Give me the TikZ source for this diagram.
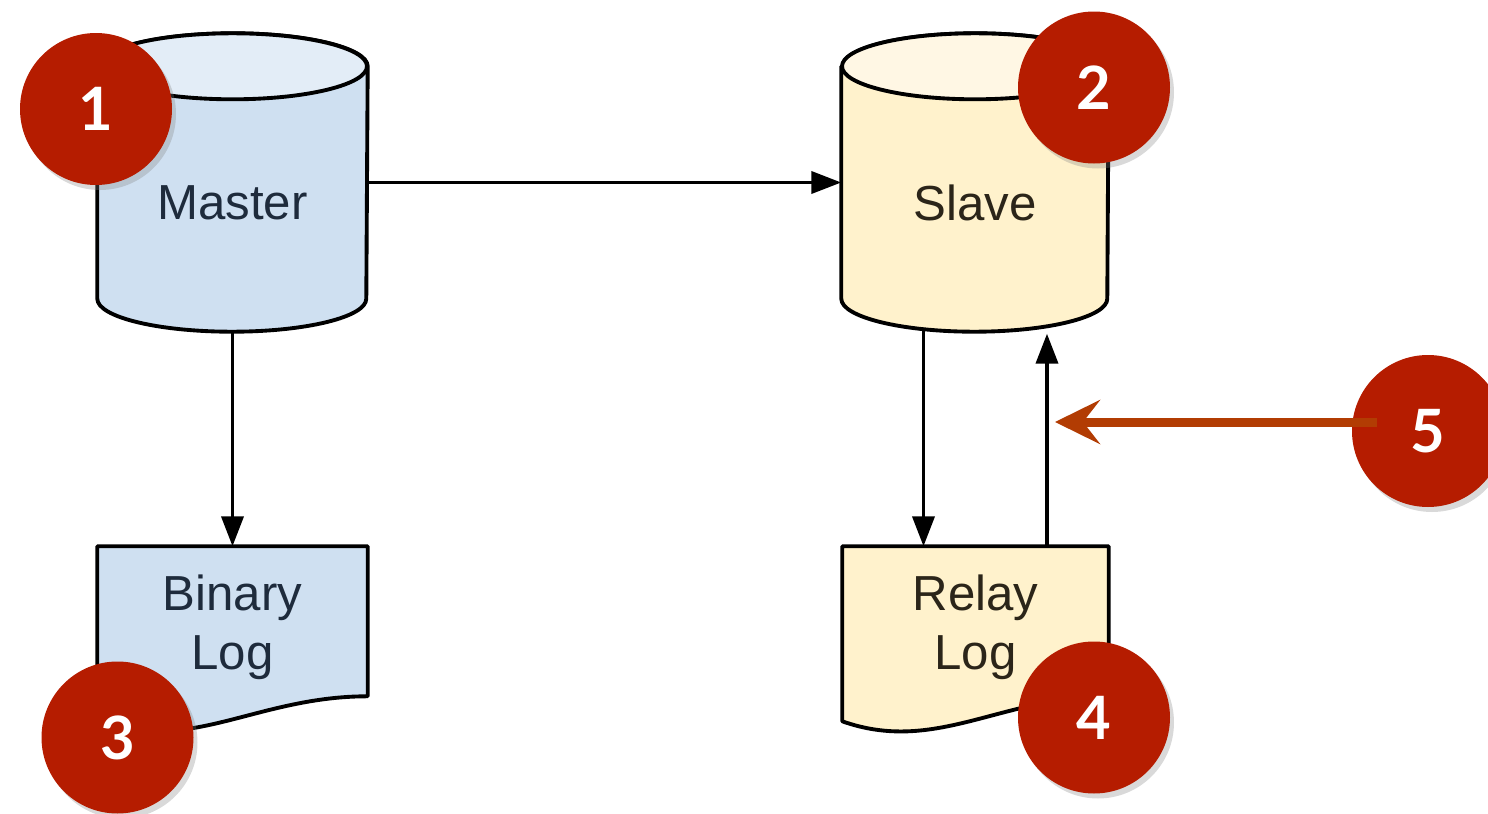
\documentclass[tikz,border=0pt]{standalone}
\usepackage{fontspec}
\setmainfont{Liberation Sans}
\newfontfamily\numfont{Lato}
\usepackage{tikz}
\usetikzlibrary{arrows.meta,shadows,calc}

\definecolor{masterfill}{HTML}{CFE0F1}
\definecolor{mastertop}{HTML}{E3EDF7}
\definecolor{masterink}{HTML}{1E2B3C}
\definecolor{slavefill}{HTML}{FFF2CC}
\definecolor{slavetop}{HTML}{FFF7E4}
\definecolor{slaveink}{HTML}{2B2519}
\definecolor{badgered}{HTML}{B51C00}
\definecolor{hintorange}{HTML}{B23C03}

\begin{document}
\begin{tikzpicture}[
    box/.style={rectangle, inner sep=0pt},
    dbtext/.style={align=center, inner sep=0pt, font=\fontsize{14}{16.8}\selectfont},
    outline/.style={line width=1.1pt, line join=round},
    flow/.style={-{Triangle[length=0.3cm,width=0.22cm]}, line width=1.1pt},
    badge/.style={circle, fill=badgered, minimum size=1.52cm, inner sep=0pt, text=white,
        font=\numfont\bfseries\fontsize{17}{17}\selectfont,
        drop shadow={shadow xshift=0.04cm, shadow yshift=-0.05cm, opacity=0.3}},
    hintarrow/.style={-{Stealth[length=0.45cm,width=0.44cm,inset=0.17cm]}, line width=0.09cm, draw=hintorange}
]
    \useasboundingbox (0,0) rectangle (14.88,8.13);

    % Master
    \node [box, minimum width=2.69cm, minimum height=2.97cm] (master) at (2.325,6.305) {};
    \draw [outline, fill=masterfill] ([yshift=-0.33cm]master.north west) -- ([yshift=0.33cm]master.south west)
        arc [start angle=180, end angle=360, x radius=1.345cm, y radius=0.33cm]
        -- ([yshift=-0.33cm]master.north east)
        arc [start angle=0, end angle=180, x radius=1.345cm, y radius=0.33cm] -- cycle;
    \draw [outline, fill=mastertop] ([yshift=-0.33cm]master.north) ellipse [x radius=1.345cm, y radius=0.33cm];
    \node [dbtext, text=masterink] (mastertext) at ([yshift=-0.205cm]master.center) {Master};

    % Slave
    \node [box, minimum width=2.66cm, minimum height=2.97cm] (slave) at (9.75,6.305) {};
    \draw [outline, fill=slavefill] ([yshift=-0.33cm]slave.north west) -- ([yshift=0.33cm]slave.south west)
        arc [start angle=180, end angle=360, x radius=1.33cm, y radius=0.33cm]
        -- ([yshift=-0.33cm]slave.north east)
        arc [start angle=0, end angle=180, x radius=1.33cm, y radius=0.33cm] -- cycle;
    \draw [outline, fill=slavetop] ([yshift=-0.33cm]slave.north) ellipse [x radius=1.33cm, y radius=0.33cm];
    \node [dbtext, text=slaveink] (slavetext) at ([yshift=-0.205cm]slave.center) {Slave};

    % Binary log
    \node [box, minimum width=2.69cm, minimum height=1.61cm] (binlog) at (2.325,1.855) {};
    \draw [outline, fill=masterfill] (binlog.north west) -- ([yshift=-1.75cm]binlog.north west)
        .. controls ([xshift=0.93cm, yshift=-2.08cm]binlog.north west) and ([xshift=1.59cm, yshift=-1.5cm]binlog.north west)
        .. ([yshift=-1.5cm]binlog.north east) -- (binlog.north east) -- cycle;
    \node [dbtext, text=masterink] (binlogtext) at (binlog.center) {Binary\\Log};

    % Relay log
    \node [box, minimum width=2.65cm, minimum height=1.61cm] (relay) at (9.755,1.855) {};
    \draw [outline, fill=slavefill] (relay.north west) -- ([yshift=-1.75cm]relay.north west)
        .. controls ([xshift=0.93cm, yshift=-2.08cm]relay.north west) and ([xshift=1.59cm, yshift=-1.5cm]relay.north west)
        .. ([yshift=-1.5cm]relay.north east) -- (relay.north east) -- cycle;
    \node [dbtext, text=slaveink] (relaytext) at (relay.center) {Relay\\Log};

    % Replication flow
    \draw [flow] (master.east) -- (slave.west);
    \draw [flow] (master.south) -- (binlog.north);
    \draw [flow] ([xshift=-0.515cm, yshift=0.025cm]slave.south) -- ([xshift=-0.515cm]slave.south |- relay.north);
    \draw [flow] ([xshift=0.72cm]slave.south |- relay.north) -- ([xshift=0.72cm, yshift=-0.02cm]slave.south);

    % Step badges
    \node [badge] (one) at (0.96,7.04) {1};
    \node [badge] (two) at (10.94,7.255) {2};
    \node [badge] (three) at (1.175,0.755) {3};
    \node [badge] (four) at (10.94,0.955) {4};
    \node [badge] (five) at (14.28,3.82) {5};

    % SQL thread pointer
    \coordinate (hint) at (10.55,3.91);
    \draw [hintarrow, shorten <=0.51cm] (hint -| five.center) -- (hint);
\end{tikzpicture}
\end{document}
